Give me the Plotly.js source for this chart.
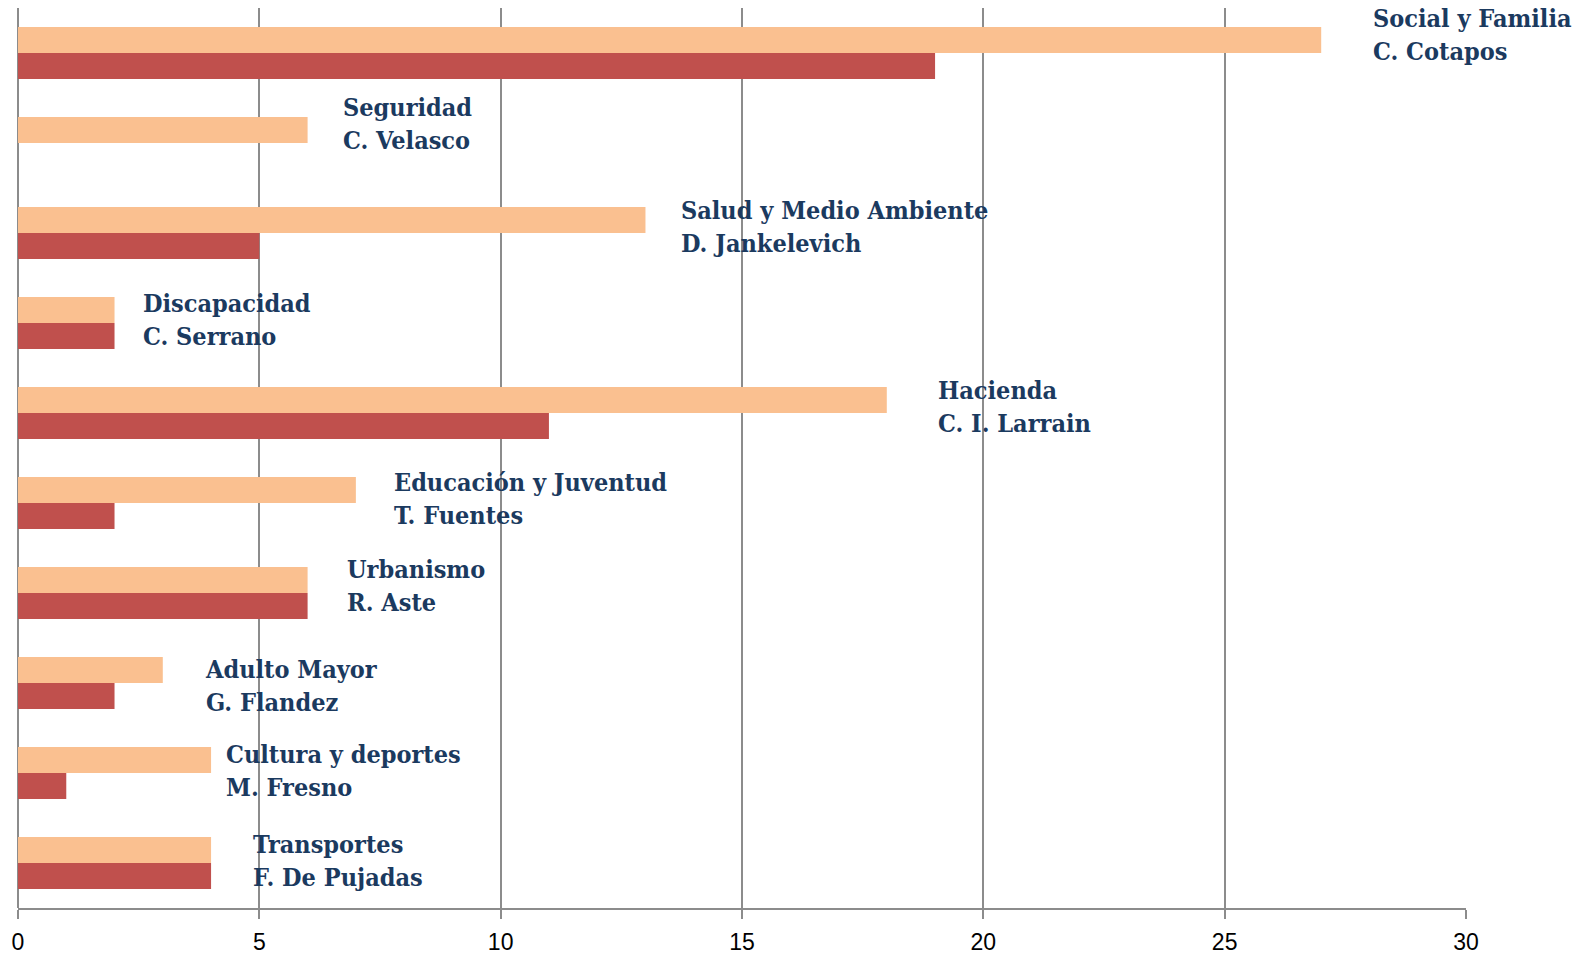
<!DOCTYPE html>
<html>
<head>
<meta charset="utf-8">
<script src="https://cdn.plot.ly/plotly-3.0.1.min.js"></script>
<style>html,body{margin:0;padding:0;background:#fff;}#chart{width:1591px;height:957px;}</style>
</head>
<body>
<div id="chart"></div>
<script>
const categories = ["Social y Familia","Seguridad","Salud y Medio Ambiente","Discapacidad","Hacienda","Educación y Juventud","Urbanismo","Adulto Mayor","Cultura y deportes","Transportes"];
const responsables = ["C. Cotapos","C. Velasco","D. Jankelevich","C. Serrano","C. I. Larrain","T. Fuentes","R. Aste","G. Flandez","M. Fresno","F. De Pujadas"];
const serieClara = [27, 6, 13, 2, 18, 7, 6, 3, 4, 4];
const serieOscura = [19, 0, 5, 2, 11, 2, 6, 2, 1, 4];
const tickVals = [0, 5, 10, 15, 20, 25, 30];

// label placement (pixels), styles
const labelXShift = [50, 33, 34, 26, 49, 36, 37, 40, 13, 40];
const labelYShift = [18.5, 19, 6, 3.5, 6, 4, 7, -3, 2, 2.5];

const traces = [
  {type:'bar', orientation:'h', y:categories, x:serieClara, marker:{color:'#FAC090', line:{width:0}}, hoverinfo:'x'},
  {type:'bar', orientation:'h', y:categories, x:serieOscura, marker:{color:'#C0504D', line:{width:0}}, hoverinfo:'x'}
];

const annotations = categories.map((c, i) => ({
  x: serieClara[i], y: c, xref:'x', yref:'y',
  text: c + '<br>' + responsables[i],
  showarrow:false, xanchor:'left', yanchor:'middle', align:'left',
  xshift: labelXShift[i], yshift: labelYShift[i],
  font:{family:'"DejaVu Serif Condensed", "DejaVu Serif", "Liberation Serif", serif', size:25, color:'#1B3A5F', weight:700}
}));

const layout = {
  width:1591, height:957,
  margin:{l:18, r:125, t:8, b:49, pad:0},
  paper_bgcolor:'#fff', plot_bgcolor:'#fff',
  barmode:'group', bargap:0.422, bargroupgap:0,
  showlegend:false,
  xaxis:{
    range:[0,30], tickvals:tickVals, ticktext:tickVals.map(String),
    showgrid:true, gridcolor:'#8C8C8C', gridwidth:2,
    zeroline:true, zerolinecolor:'#8C8C8C', zerolinewidth:2,
    showline:true, linecolor:'#8C8C8C', linewidth:2,
    ticks:'outside', ticklen:9, tickwidth:2, tickcolor:'#8C8C8C',
    ticklabelstandoff:3,
    tickfont:{family:'"Liberation Sans", Arial, sans-serif', size:23, color:'#000'},
    fixedrange:true
  },
  yaxis:{
    type:'category', autorange:'reversed',
    showticklabels:false, showgrid:false, zeroline:false, showline:false, ticks:'',
    fixedrange:true
  },
  annotations: annotations
};

Plotly.newPlot('chart', traces, layout, {displayModeBar:false, staticPlot:true});
</script>
</body>
</html>
